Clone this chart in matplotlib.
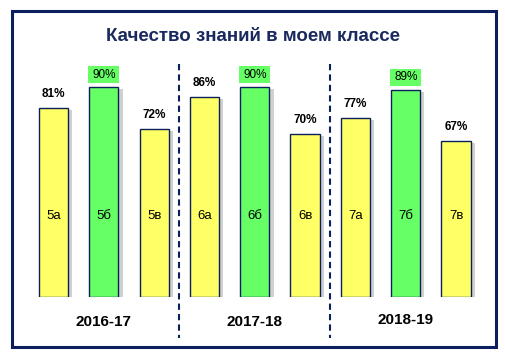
import matplotlib.pyplot as plt
import matplotlib.patheffects as pe
from matplotlib.patches import Rectangle
import numpy as np

plt.rcParams['font.family'] = ['Liberation Sans', 'DejaVu Sans']

classes = ["5а", "5б", "5в", "6а", "6б", "6в", "7а", "7б", "7в"]
values = [81, 90, 72, 86, 90, 70, 77, 89, 67]
colors = ["#FFFF66", "#66FF66", "#FFFF66"] * 3
years = ["2016-17", "2017-18", "2018-19"]

navy = "#0B1F5C"
bar_w = 0.58

fig = plt.figure(figsize=(5.06, 3.58), dpi=100)
fig.patches.append(Rectangle((0.024, 0.031), 0.956, 0.938, transform=fig.transFigure,
                             fill=False, edgecolor=navy, linewidth=2.2, zorder=5))
fig.text(0.5, 0.897, "Качество знаний в моем классе", ha="center", va="center",
         fontsize=13.5, fontweight="bold", color="#1B2A5E")

ax = fig.add_axes([0.056, 0.170, 0.895, 0.651])
x = np.arange(len(values))
shadow = [pe.SimplePatchShadow(offset=(3, -1.5), shadow_rgbFace="#aaaaaa", alpha=0.55), pe.Normal()]
bars = ax.bar(x, values, width=bar_w, color=colors, edgecolor=navy, linewidth=1.0, zorder=3)
for b in bars:
    b.set_path_effects(shadow)

for i, (v, c) in enumerate(zip(values, colors)):
    if c == "#66FF66":
        ax.add_patch(Rectangle((i - bar_w / 2 - 0.02, v + 1.8), bar_w + 0.04, 7.2,
                               facecolor="#66FF66", edgecolor="none", zorder=2, clip_on=False))
        ax.text(i, v + 5.4, f"{v}%", ha="center", va="center", fontsize=8.5,
                color="black", zorder=4)
    else:
        ax.text(i, v + 6, f"{v}%", ha="center", va="center", fontsize=8.5,
                fontweight="bold", color="black", zorder=4)
    ax.text(i, 35, classes[i], ha="center", va="center", fontsize=9.5, color="black", zorder=4)

for sx in [2.5, 5.5]:
    ax.plot([sx, sx], [100, -17.5], linestyle=(0, (3, 2)), color=navy, linewidth=1.5,
            clip_on=False)

for j, yr in enumerate(years):
    ax.text(3 * j + 1, -10.7 if j < 2 else -10, yr, ha="center", va="center",
            fontsize=11, fontweight="bold", color="black")

ax.set_xlim(-0.5, 8.5)
ax.set_ylim(0, 100)
ax.axis("off")

fig.savefig("out.png", dpi=100)
